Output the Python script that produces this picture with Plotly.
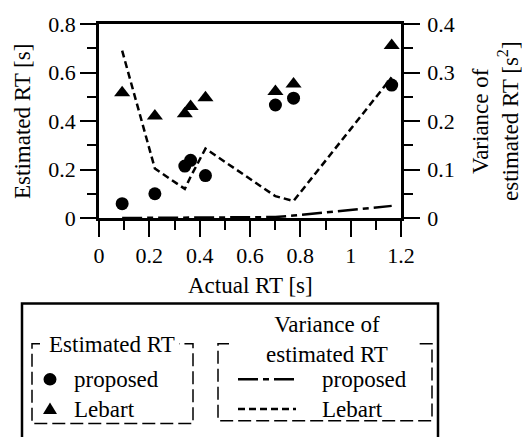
import plotly.graph_objects as go

# ---- data ----
actual_rt = [0.092, 0.222, 0.341, 0.364, 0.423, 0.701, 0.773, 1.163]
est_proposed = [0.059, 0.100, 0.214, 0.238, 0.175, 0.466, 0.494, 0.548]
est_lebart = [0.517, 0.421, 0.430, 0.460, 0.496, 0.522, 0.553, 0.711]
var_proposed = [0.0, 0.0, 0.0005, 0.0007, 0.001, 0.002, 0.005, 0.025]
var_lebart = [0.345, 0.102, 0.060, 0.085, 0.143, 0.045, 0.035, 0.290]

x_ticks = [0, 0.2, 0.4, 0.6, 0.8, 1.0, 1.2]
y_ticks = [0, 0.2, 0.4, 0.6, 0.8]
y2_ticks = [0, 0.1, 0.2, 0.3, 0.4]

FONT = "'Liberation Serif', 'Times New Roman', Times, serif"
W, H = 522, 437
L, R, T, B = 99, 401, 16, 218
PW, PH = R - L, B - T

def px(p):
    return (p - L) / PW

def py(p):
    return (B - p) / PH

fig = go.Figure()
fig.add_trace(go.Scatter(x=actual_rt, y=var_proposed, yaxis="y2", mode="lines",
                         line=dict(color="black", width=2.5, dash="20px,5px,6px,5px"),
                         showlegend=False))
fig.add_trace(go.Scatter(x=actual_rt, y=var_lebart, yaxis="y2", mode="lines",
                         line=dict(color="black", width=2.5, dash="7px,4px"),
                         showlegend=False))
fig.add_trace(go.Scatter(x=actual_rt, y=est_proposed, mode="markers",
                         marker=dict(symbol="circle", size=13, color="black"),
                         showlegend=False))
fig.add_trace(go.Scatter(x=actual_rt, y=est_lebart, mode="markers",
                         marker=dict(symbol="triangle-up", size=14, color="black"),
                         showlegend=False))

tickfont = dict(family=FONT, size=22, color="black")
common = dict(showgrid=False, zeroline=False, showline=True, linecolor="black",
              linewidth=2.5, ticks="outside", ticklen=16, tickwidth=1.5,
              tickcolor="black", tickfont=tickfont)

fig.update_layout(
    width=W, height=H,
    margin=dict(l=L, r=W - R, t=T, b=H - B, pad=0),
    paper_bgcolor="white", plot_bgcolor="white",
    font=dict(family=FONT, size=23, color="black"),
    xaxis=dict(range=[0, 1.2], tickvals=x_ticks, ticktext=["0", "0.2", "0.4", "0.6", "0.8", "1", "1.2"],
               mirror=True,
               minor=dict(dtick=0.1, tick0=0, ticks="outside", ticklen=9, tickwidth=1.5, tickcolor="black"),
               **common),
    yaxis=dict(range=[0, 0.8], tickvals=y_ticks, ticktext=["0", "0.2", "0.4", "0.6", "0.8"],
               minor=dict(dtick=0.1, tick0=0, ticks="outside", ticklen=9, tickwidth=1.5, tickcolor="black"),
               **common),
    yaxis2=dict(range=[0, 0.4], tickvals=y2_ticks, ticktext=["0", "0.1", "0.2", "0.3", "0.4"],
                overlaying="y", side="right",
                minor=dict(dtick=0.05, tick0=0, ticks="outside", ticklen=9, tickwidth=1.5, tickcolor="black"),
                ticklabelstandoff=3,
                **common),
)

ann = []
tfont = dict(family=FONT, size=23, color="black")
# axis titles
ann.append(dict(text="Actual RT [s]", x=px(250), y=py(288), xref="paper", yref="paper",
                showarrow=False, xanchor="center", yanchor="middle", font=tfont))
ann.append(dict(text="Estimated RT [s]", x=px(22), y=py(117), xref="paper", yref="paper",
                showarrow=False, xanchor="center", yanchor="middle", textangle=-90, font=tfont))
ann.append(dict(text="Variance of<br>estimated RT [s<sup>2</sup>]", x=px(495), y=py(117),
                xref="paper", yref="paper", showarrow=False, xanchor="center", yanchor="middle",
                textangle=-90, font=tfont))

# legend texts
ann.append(dict(text="Estimated RT", x=px(112), y=py(350), xref="paper", yref="paper",
                showarrow=False, xanchor="center", yanchor="middle", font=tfont))
ann.append(dict(text="Variance of<br>estimated RT", x=px(327), y=py(345), xref="paper", yref="paper",
                showarrow=False, xanchor="center", yanchor="middle", font=tfont))
for xx, yy, t in [(72, 386, "proposed"), (72, 417, "Lebart"), (320, 386, "proposed"), (320, 417, "Lebart")]:
    ann.append(dict(text=t, x=px(xx), y=py(yy), xref="paper", yref="paper",
                    showarrow=False, xanchor="left", yanchor="middle", font=tfont))
fig.update_layout(annotations=ann)

shapes = []
# outer legend box
shapes.append(dict(type="rect", xref="paper", yref="paper", x0=px(22), x1=px(438), y0=py(307), y1=py(450),
                   line=dict(color="black", width=2.5)))

def path(points):
    s = "M" + " L".join(f"{px(a):.5f},{py(b):.5f}" for a, b in points)
    return s

shapes.append(dict(type="path", xref="paper", yref="paper",
                   path=path([(40, 349), (32, 349), (32, 432), (193, 432), (193, 349), (179, 349)]),
                   line=dict(color="black", width=1.5, dash="13px,5px")))
shapes.append(dict(type="path", xref="paper", yref="paper",
                   path=path([(229, 349), (218, 349), (218, 429), (432, 429), (432, 349), (415, 349)]),
                   line=dict(color="black", width=1.5, dash="13px,5px")))
# legend markers
r = 6.5
shapes.append(dict(type="circle", xref="paper", yref="paper", x0=px(50 - r), x1=px(50 + r),
                   y0=py(386 - r), y1=py(386 + r), fillcolor="black", line=dict(color="black", width=0)))
shapes.append(dict(type="path", xref="paper", yref="paper",
                   path=path([(43, 422), (57, 422), (50, 410)]) + " Z",
                   fillcolor="black", line=dict(color="black", width=0)))
# legend lines
shapes.append(dict(type="line", xref="paper", yref="paper", x0=px(238), x1=px(296), y0=py(386), y1=py(386),
                   line=dict(color="black", width=2.5, dash="20px,5px,6px,5px")))
shapes.append(dict(type="line", xref="paper", yref="paper", x0=px(238), x1=px(296), y0=py(417), y1=py(417),
                   line=dict(color="black", width=2.5, dash="7px,4px")))
fig.update_layout(shapes=shapes)

fig.write_html("out.html")
